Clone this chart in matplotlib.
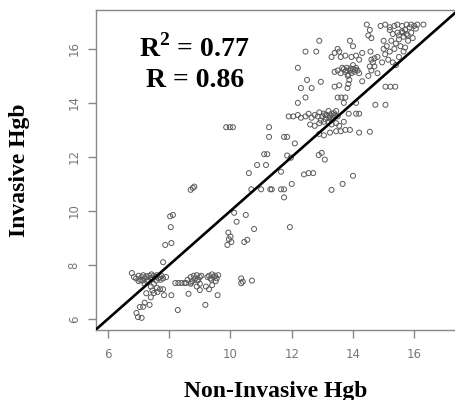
import matplotlib
matplotlib.use("Agg")
import matplotlib.pyplot as plt
import numpy as np

# ---- data ----
band_x = [6.85, 6.92, 7.0, 7.05, 7.1, 7.15, 7.2, 7.25, 7.3, 7.35, 7.4, 7.45, 7.5, 7.55, 7.6,
          7.65, 7.7, 7.75, 7.8, 7.9, 7.0, 7.12, 7.28, 7.42, 7.58, 7.72,
          8.6, 8.7, 8.75, 8.8, 8.85, 8.9, 8.95, 9.0, 9.05, 8.72, 8.92,
          9.25, 9.3, 9.35, 9.4, 9.45, 9.5, 9.55, 9.6, 9.38, 9.52,
          8.2, 8.3, 8.4, 8.5, 8.55,
          7.2, 7.4, 7.6, 7.7, 7.8, 7.5, 8.7, 8.9, 9.2, 9.4, 9.0]
band_y = [7.55, 7.5, 7.6, 7.45, 7.55, 7.62, 7.5, 7.58, 7.45, 7.6, 7.52, 7.48, 7.6, 7.55, 7.62,
          7.5, 7.55, 7.6, 7.5, 7.55, 7.4, 7.42, 7.38, 7.65, 7.42, 7.45,
          7.45, 7.55, 7.4, 7.6, 7.5, 7.62, 7.45, 7.55, 7.6, 7.35, 7.42,
          7.55, 7.6, 7.5, 7.65, 7.55, 7.6, 7.5, 7.62, 7.45, 7.4,
          7.33, 7.33, 7.33, 7.33, 7.33,
          7.3, 7.2, 7.15, 7.1, 7.1, 7.3, 7.3, 7.2, 7.2, 7.25, 7.3]

low_x = [6.78, 7.8, 7.87, 8.07, 8.05, 8.03, 8.12, 6.93, 6.98, 7.1, 7.04, 7.15, 7.2, 7.36,
         7.4, 7.5, 8.28, 8.07, 7.83, 8.63, 9.18, 9.58, 9.0, 9.3, 7.62, 7.25, 7.45,
         9.93, 9.95, 9.9, 10.0, 10.03, 10.12, 10.5, 10.2, 10.77, 11.94, 10.45, 10.55,
         10.35, 10.4, 10.35, 10.7, 8.77, 8.7, 8.82, 9.86, 9.98, 10.08]
low_y = [7.70, 8.1, 8.74, 8.81, 9.4, 9.8, 9.85, 6.22, 6.07, 6.04, 6.44, 6.45, 6.6, 6.52,
         6.8, 6.96, 6.33, 6.88, 6.88, 6.93, 6.52, 6.88, 7.07, 7.1, 7.0, 6.95, 7.05,
         9.2, 8.95, 8.74, 9.05, 8.85, 9.93, 9.85, 9.6, 9.33, 9.4, 8.85, 8.93,
         7.5, 7.38, 7.32, 7.42, 10.85, 10.78, 10.9, 13.1, 13.1, 13.1]

mid_x = [10.6, 10.87, 11.16, 10.68, 11.0, 11.3, 11.35, 11.65, 11.75, 11.75, 12.0, 12.4,
         12.55, 12.7, 13.3, 13.66, 14.0, 11.65, 12.88, 12.98, 13.08, 11.1, 11.2, 11.85,
         11.97, 12.1, 11.26, 11.26, 11.75, 11.85,
         11.9, 12.05, 12.2, 12.3, 12.45, 12.55, 12.65, 12.75, 12.85, 12.9, 13.0, 13.05,
         13.1, 13.15, 13.2, 13.25, 13.3, 13.35, 13.4, 13.45, 13.5, 12.95, 13.2,
         13.1, 13.22, 13.38, 13.28, 13.42,
         12.6, 12.75, 12.9, 13.05, 13.3, 13.45, 13.55, 13.7,
         12.9, 13.05, 13.25, 13.45, 13.6, 13.75, 13.9, 14.2, 14.55,
         13.86, 14.1, 14.2, 14.1, 13.7, 14.73, 15.06]
mid_y = [11.4, 11.7, 11.7, 10.8, 10.8, 10.8, 10.8, 10.8, 10.8, 10.5, 11.0, 11.35,
         11.4, 11.4, 10.78, 11.0, 11.3, 11.45, 12.07, 12.15, 11.9, 12.1, 12.1, 12.05,
         11.97, 12.5, 13.1, 12.74, 12.74, 12.74,
         13.5, 13.5, 13.55, 13.45, 13.5, 13.6, 13.45, 13.55, 13.5, 13.65, 13.5, 13.6,
         13.4, 13.55, 13.7, 13.5, 13.6, 13.45, 13.55, 13.7, 13.5, 13.35, 13.3,
         13.55, 13.45, 13.62, 13.4, 13.5,
         13.2, 13.15, 13.25, 13.3, 13.2, 13.25, 13.15, 13.3,
         12.85, 12.8, 12.9, 12.95, 12.95, 13.0, 13.0, 12.9, 12.93,
         13.6, 13.6, 13.6, 14.0, 14.0, 13.93, 13.93]

up_x = [12.2, 12.45, 12.3, 12.65, 12.5, 12.95, 12.2, 13.4, 13.5, 13.62, 13.75, 13.55,
        13.82, 13.85, 13.88, 13.83, 14.3, 15.06, 15.22, 15.38,
        13.4, 13.5, 13.6, 13.7, 13.75, 13.8, 13.9, 13.95, 14.0, 14.05, 14.1, 14.15, 14.2,
        13.65, 13.85, 14.0, 13.78, 13.92, 14.08,
        14.5, 14.6, 14.7, 14.8, 14.65, 14.55,
        12.45, 12.8, 12.9, 13.3, 13.4, 13.55, 13.6, 13.75, 13.5,
        13.9, 14.0, 13.95, 14.1, 14.2, 14.3, 14.57, 14.7, 14.8, 14.6,
        14.45, 14.55, 14.5, 14.6,
        14.9, 15.05, 15.2, 15.35, 15.45, 15.6, 15.75, 15.9, 16.1, 16.3, 16.0,
        15.2, 15.25, 15.35, 15.4, 15.5, 15.6, 15.7, 15.75, 15.8, 15.85, 15.55, 15.65,
        15.45, 15.3, 15.0, 15.0, 15.05, 15.15, 15.3, 15.4, 15.5, 15.65, 15.7, 15.2,
        14.95, 15.1, 15.9, 16.05, 15.95, 15.62, 15.78, 15.5]
up_y = [14.0, 14.2, 14.55, 14.55, 14.85, 14.78, 15.3, 14.6, 14.2, 14.2, 14.2, 14.65,
        14.55, 14.7, 14.85, 15.0, 14.8, 14.6, 14.6, 14.6,
        15.15, 15.2, 15.1, 15.25, 15.15, 15.3, 15.2, 15.1, 15.25, 15.15, 15.3, 15.2, 15.1,
        15.3, 15.05, 15.4, 15.2, 15.28, 15.22,
        15.0, 15.2, 15.35, 15.1, 15.5, 15.35,
        15.9, 15.9, 16.3, 15.7, 15.85, 15.9, 15.7, 15.75, 16.0,
        16.3, 16.1, 15.7, 15.75, 15.6, 15.85, 15.9, 15.65, 15.7, 15.6,
        16.9, 16.7, 16.5, 16.4,
        16.85, 16.9, 16.8, 16.85, 16.9, 16.85, 16.9, 16.9, 16.9, 16.9, 16.85,
        16.7, 16.3, 16.0, 16.2, 16.5, 16.65, 16.7, 16.55, 16.3, 16.8, 16.1, 16.45,
        16.6, 16.55, 16.3, 16.0, 15.8, 15.6, 15.5, 15.4, 15.7, 15.9, 16.05, 15.9,
        15.5, 16.1, 16.6, 16.75, 16.4, 16.6, 16.5, 16.35]

x_vals = band_x + low_x + mid_x + up_x
y_vals = band_y + low_y + mid_y + up_y

x_ticks = [6, 8, 10, 12, 14, 16]
y_ticks = [6, 8, 10, 12, 14, 16]
r2_text = "0.77"
r_text = "0.86"

# ---- figure ----
plt.rcParams['mathtext.fontset'] = 'custom'
plt.rcParams['mathtext.rm'] = 'Liberation Serif:bold'
plt.rcParams['mathtext.bf'] = 'Liberation Serif:bold'

fig = plt.figure(figsize=(4.55, 4.0), dpi=100)
ax = fig.add_axes([96/455, 70/400, 359/455, 320/400])

ax.scatter(x_vals, y_vals, s=13, facecolors='none', edgecolors='#5a5a5a',
           linewidths=0.7, zorder=2)
ax.plot([5.0, 18.0], [5.0, 18.0], color='black', lw=1.9, zorder=3)

ax.set_xlim(5.61, 17.33)
ax.set_ylim(5.59, 17.44)
ax.set_xticks(x_ticks)
ax.set_yticks(y_ticks)
ax.tick_params(axis='both', colors='#888888', labelcolor='#777777',
               labelsize=8.5, length=6, width=1)
ax.tick_params(axis='x', pad=7)
ax.tick_params(axis='y', pad=5)
for lab in ax.get_yticklabels():
    lab.set_rotation(90)
    lab.set_va('center')

for side in ['left', 'top', 'bottom']:
    ax.spines[side].set_color('#888888')
    ax.spines[side].set_linewidth(1.0)
ax.spines['right'].set_visible(False)

ax.set_xlabel('Non-Invasive Hgb', fontfamily='Liberation Serif', fontweight='bold',
              fontsize=17, labelpad=14)
ax.set_ylabel('Invasive Hgb', fontfamily='Liberation Serif', fontweight='bold',
              fontsize=17, labelpad=27)

ax.text(0.275, 0.88, r'R$^{\mathbf{2}}$ = ' + r2_text, transform=ax.transAxes,
        ha='center', va='center', fontfamily='Liberation Serif', fontweight='bold',
        fontsize=20)
ax.text(0.275, 0.78, 'R = ' + r_text, transform=ax.transAxes,
        ha='center', va='center', fontfamily='Liberation Serif', fontweight='bold',
        fontsize=20)

fig.savefig('out.png', dpi=100)
